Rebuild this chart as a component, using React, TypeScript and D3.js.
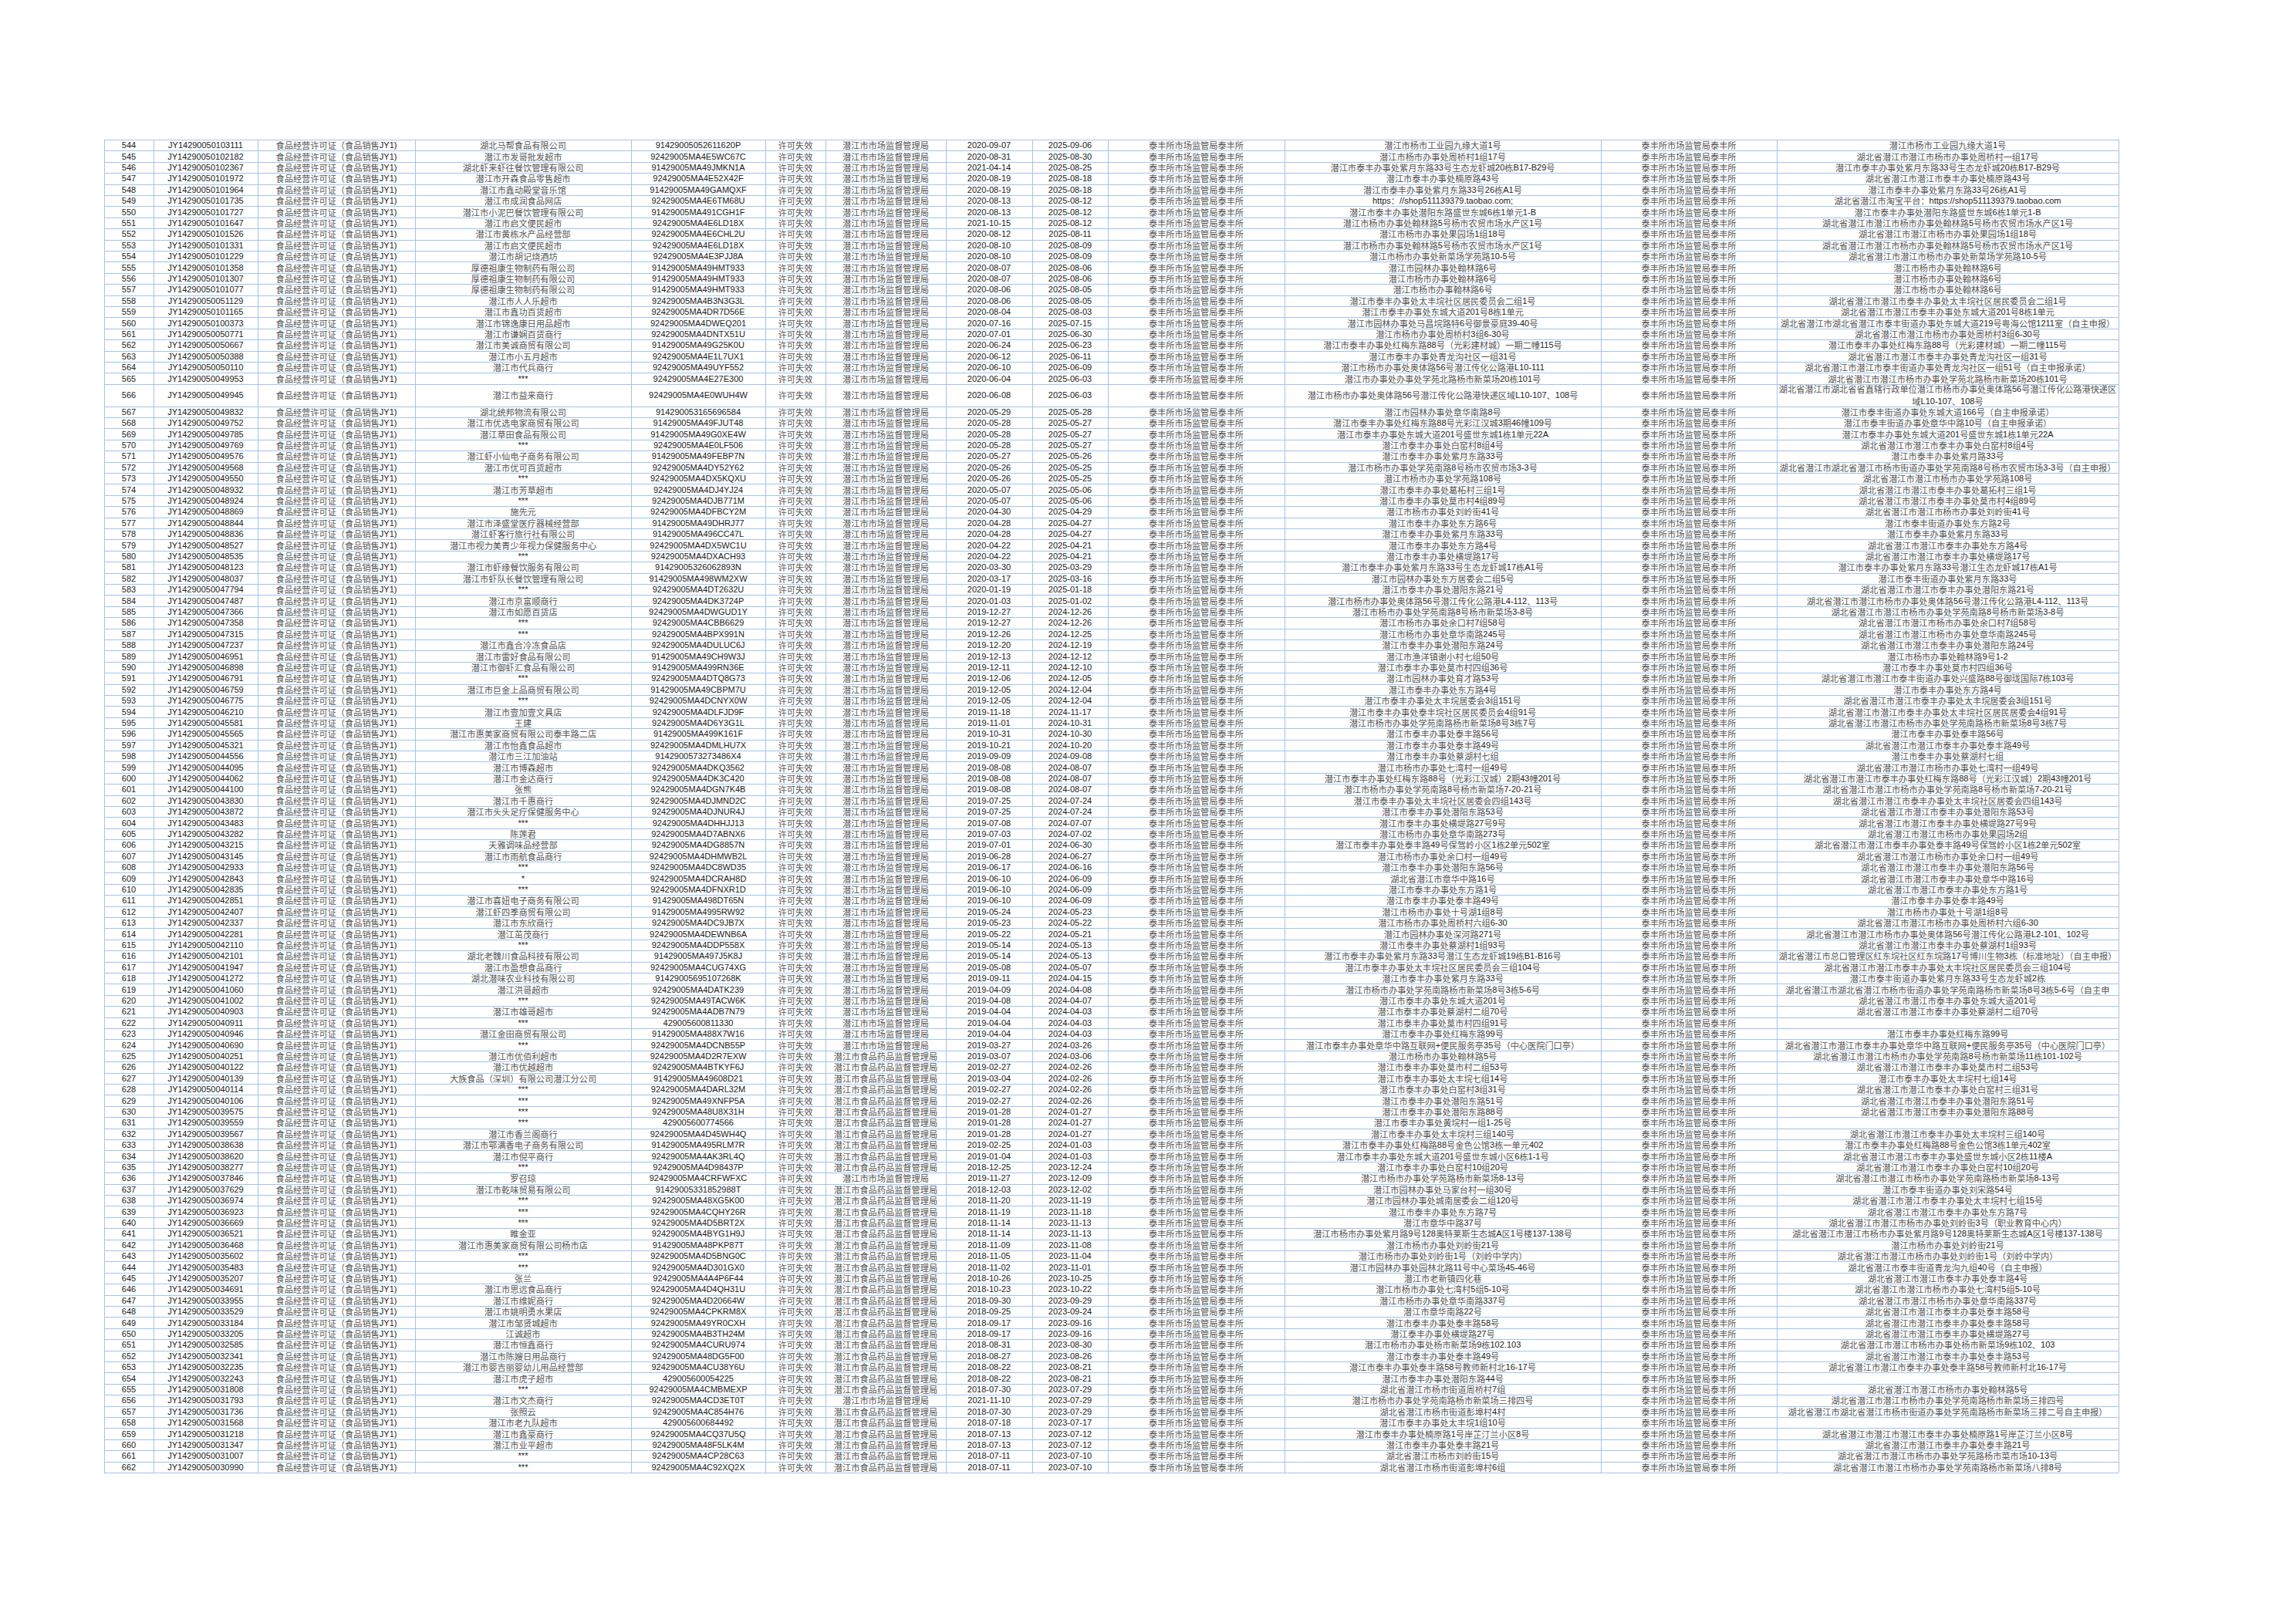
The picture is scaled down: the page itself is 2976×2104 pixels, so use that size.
import React from "react";
import * as d3 from "d3";

// ---------- DATA ----------
const rowNumbers = [
  544, 545, 546, 547, 548, 549, 550, 551, 552, 553, 554, 555, 556, 557, 558, 559,
  560, 561, 562, 563, 564, 565, 566, 567, 568, 569, 570, 571, 572, 573, 574, 575,
  576, 577, 578, 579, 580, 581, 582, 583, 584, 585, 586, 587, 588, 589, 590, 591,
  592, 593, 594, 595, 596, 597, 598, 599, 600, 601, 602, 603, 604, 605, 606, 607,
  608, 609, 610, 611, 612, 613, 614, 615, 616, 617, 618, 619, 620, 621, 622, 623,
  624, 625, 626, 627, 628, 629, 630, 631, 632, 633, 634, 635, 636, 637, 638, 639,
  640, 641, 642, 643, 644, 645, 646, 647, 648, 649, 650, 651, 652, 653, 654, 655,
  656, 657, 658, 659, 660, 661, 662,
];

const licenseNos = [
  "JY14290050103111", "JY14290050102182", "JY14290050102367", "JY14290050101972",
  "JY14290050101964", "JY14290050101735", "JY14290050101727", "JY14290050101647",
  "JY14290050101526", "JY14290050101331", "JY14290050101229", "JY14290050101358",
  "JY14290050101307", "JY14290050101077", "JY14290050051129", "JY14290050101165",
  "JY14290050100373", "JY14290050050771", "JY14290050050667", "JY14290050050388",
  "JY14290050050110", "JY14290050049953", "JY14290050049945", "JY14290050049832",
  "JY14290050049752", "JY14290050049785", "JY14290050049769", "JY14290050049576",
  "JY14290050049568", "JY14290050049550", "JY14290050048932", "JY14290050048924",
  "JY14290050048869", "JY14290050048844", "JY14290050048836", "JY14290050048527",
  "JY14290050048535", "JY14290050048123", "JY14290050048037", "JY14290050047794",
  "JY14290050047487", "JY14290050047366", "JY14290050047358", "JY14290050047315",
  "JY14290050047237", "JY14290050046951", "JY14290050046898", "JY14290050046791",
  "JY14290050046759", "JY14290050046775", "JY14290050046210", "JY14290050045581",
  "JY14290050045565", "JY14290050045321", "JY14290050044556", "JY14290050044095",
  "JY14290050044062", "JY14290050044100", "JY14290050043830", "JY14290050043872",
  "JY14290050043483", "JY14290050043282", "JY14290050043215", "JY14290050043145",
  "JY14290050042933", "JY14290050042843", "JY14290050042835", "JY14290050042851",
  "JY14290050042407", "JY14290050042337", "JY14290050042281", "JY14290050042110",
  "JY14290050042101", "JY14290050041947", "JY14290050041272", "JY14290050041060",
  "JY14290050041002", "JY14290050040903", "JY14290050040911", "JY14290050040946",
  "JY14290050040690", "JY14290050040251", "JY14290050040122", "JY14290050040139",
  "JY14290050040114", "JY14290050040106", "JY14290050039575", "JY14290050039559",
  "JY14290050039567", "JY14290050038638", "JY14290050038620", "JY14290050038277",
  "JY14290050037846", "JY14290050037629", "JY14290050036974", "JY14290050036923",
  "JY14290050036669", "JY14290050036521", "JY14290050036468", "JY14290050035602",
  "JY14290050035483", "JY14290050035207", "JY14290050034691", "JY14290050033955",
  "JY14290050033529", "JY14290050033184", "JY14290050033205", "JY14290050032585",
  "JY14290050032341", "JY14290050032235", "JY14290050032243", "JY14290050031808",
  "JY14290050031793", "JY14290050031736", "JY14290050031568", "JY14290050031218",
  "JY14290050031347", "JY14290050031007", "JY14290050030990",
];

const permitType = "食品经营许可证（食品销售JY1)";
const permitStatus = "许可失效";
const supervisor = "泰丰所市场监管局泰丰所";

const companies = [
  "湖北马帮食品有限公司", "潜江市发哥批发超市", "湖北虾来虾往餐饮管理有限公司", "潜江市开森食品零售超市",
  "潜江市鑫动殿堂音乐馆", "潜江市成润食品网店", "潜江市小泥巴餐饮管理有限公司", "潜江市启文便民超市",
  "潜江市黄栋水产品经营部", "潜江市启文便民超市", "潜江市胡记烧酒坊", "厚德祖康生物制药有限公司",
  "厚德祖康生物制药有限公司", "厚德祖康生物制药有限公司", "潜江市人人乐超市", "潜江市鑫功百货超市",
  "潜江市锦逸康日用品超市", "潜江市谦娴百货商行", "潜江市美诚商贸有限公司", "潜江市小五月超市",
  "潜江市代兵商行", "***", "潜江市益来商行", "湖北统邦物流有限公司",
  "潜江市优选电家商贸有限公司", "潜江草田食品有限公司", "***", "潜江虾小仙电子商务有限公司",
  "潜江市优可百货超市", "***", "潜江市芳草超市", "***",
  "施先元", "潜江市泽盛堂医疗器械经营部", "潜江虾客行旅行社有限公司", "潜江市视力美青少年视力保健服务中心",
  "***", "潜江市虾缘餐饮服务有限公司", "潜江市虾队长餐饮管理有限公司", "***",
  "潜江市京富顺商行", "潜江市如愿百货店", "***", "***",
  "潜江市鑫合冷冻食品店", "潜江市雷好食品有限公司", "潜江市御虾汇食品有限公司", "***",
  "潜江市巨金上品商贸有限公司", "***", "潜江市壹加壹文具店", "王建",
  "潜江市惠美家商贸有限公司泰丰路二店", "潜江市怡鑫食品超市", "潜江市三江加油站", "潜江市博森超市",
  "潜江市金达商行", "张熊", "潜江市千惠商行", "潜江市头头足疗保健服务中心",
  "***", "陈莲君", "天雅调味品经营部", "潜江市雨航食品商行",
  "***", "*", "***", "潜江市喜妞电子商务有限公司",
  "潜江虾四季商贸有限公司", "潜江市东欣商行", "潜江茁茂商行", "***",
  "湖北老魏川食品科技有限公司", "潜江市盈想食品商行", "湖北潜味农业科技有限公司", "潜江洪哥超市",
  "***", "潜江市雄哥超市", "***", "潜江金田商贸有限公司",
  "***", "潜江市优佰利超市", "潜江市优越超市", "大族食品（深圳）有限公司潜江分公司",
  "***", "***", "***", "***",
  "潜江市香兰阁商行", "潜江市鄂满香电子商务有限公司", "潜江市倪平商行", "***",
  "罗召琼", "潜江市乾味贸易有限公司", "***", "***",
  "***", "睢金亚", "潜江市惠美家商贸有限公司杨市店", "***",
  "***", "张兰", "潜江市思远食品商行", "潜江市维妮商行",
  "潜江市姚明勇水果店", "潜江市邹贤城超市", "江诚超市", "潜江市恒鑫商行",
  "潜江市陈嫂日用品商行", "潜江市婴吉丽婴幼儿用品经营部", "潜江市虎子超市", "***",
  "潜江市文杰商行", "张照云", "潜江市老九队超市", "潜江市鑫豪商行",
  "潜江市业平超市", "***", "***",
];

const creditCodes = [
  "91429005052611620P", "92429005MA4E5WC67C", "91429005MA49JMKN1A", "92429005MA4E52X42F",
  "91429005MA49GAMQXF", "92429005MA4E6TM68U", "91429005MA491CGH1F", "92429005MA4E6LD18X",
  "92429005MA4E6CHL2U", "92429005MA4E6LD18X", "92429005MA4E3PJJ8A", "91429005MA49HMT933",
  "91429005MA49HMT933", "91429005MA49HMT933", "92429005MA4B3N3G3L", "92429005MA4DR7D56E",
  "92429005MA4DWEQ201", "92429005MA4DNTX51U", "91429005MA49G25K0U", "92429005MA4E1L7UX1",
  "92429005MA49UYF552", "92429005MA4E27E300", "92429005MA4E0WUH4W", "914290053165696584",
  "91429005MA49FJUT48", "91429005MA49G0XE4W", "92429005MA4E0LF506", "91429005MA49FEBP7N",
  "92429005MA4DY52Y62", "92429005MA4DX5KQXU", "92429005MA4DJ4YJ24", "92429005MA4DJB771M",
  "92429005MA4DFBCY2M", "91429005MA49DHRJ77", "91429005MA496CC47L", "92429005MA4DX5WC1U",
  "92429005MA4DXACH93", "91429005326062893N", "91429005MA498WM2XW", "92429005MA4DT2632U",
  "92429005MA4DK3724P", "92429005MA4DWGUD1Y", "92429005MA4CBB6629", "92429005MA4BPX991N",
  "92429005MA4DULUC6J", "91429005MA49CH9W3J", "91429005MA499RN36E", "92429005MA4DTQ8G73",
  "91429005MA49CBPM7U", "92429005MA4DCNYX0W", "92429005MA4DLFJD9F", "92429005MA4D6Y3G1L",
  "91429005MA499K161F", "92429005MA4DMLHU7X", "9142900573273486X4", "92429005MA4DKQ3562",
  "92429005MA4DK3C420", "92429005MA4DGN7K4B", "92429005MA4DJMND2C", "92429005MA4DJNUR4J",
  "92429005MA4DHHJJ13", "92429005MA4D7ABNX6", "92429005MA4DG8857N", "92429005MA4DHMWB2L",
  "92429005MA4DC8WD35", "92429005MA4DCRAH8D", "92429005MA4DFNXR1D", "91429005MA498DT65N",
  "91429005MA4995RW92", "92429005MA4DC9JB7X", "92429005MA4DEWNB6A", "92429005MA4DDP558X",
  "91429005MA497J5K8J", "92429005MA4CUG74XG", "91429005695107268K", "92429005MA4DATK239",
  "92429005MA49TACW6K", "92429005MA4ADB7N79", "429005600811330", "91429005MA488X7W16",
  "92429005MA4DCNB55P", "92429005MA4D2R7EXW", "92429005MA4BTKYF6J", "91429005MA49608D21",
  "92429005MA4DARL32M", "92429005MA49XNFP5A", "92429005MA48U8X31H", "429005600774566",
  "92429005MA4D45WH4Q", "91429005MA495RLM7R", "92429005MA4AK3RL4Q", "92429005MA4D98437P",
  "92429005MA4CRFWFXC", "91429005331852988T", "92429005MA48XG5K00", "92429005MA4CQHY26R",
  "92429005MA4D5BRT2X", "92429005MA4BYG1H9J", "91429005MA48PKP87T", "92429005MA4D5BNG0C",
  "92429005MA4D301GX0", "92429005MA4A4P6F44", "92429005MA4D4QH31U", "92429005MA4D20664W",
  "92429005MA4CPKRM8X", "92429005MA49YR0CXH", "92429005MA4B3TH24M", "92429005MA4CURU974",
  "92429005MA48DG5F00", "92429005MA4CU38Y6U", "429005600054225", "92429005MA4CMBMEXP",
  "92429005MA4CD3ET0T", "92429005MA4C854H76", "429005600684492", "92429005MA4CQ37U5Q",
  "92429005MA48F5LK4M", "92429005MA4CP28C63", "92429005MA4C92XQ2X",
];

const AUTH_M = "潜江市市场监督管理局";
const AUTH_F = "潜江市食品药品监督管理局";
// M = 市场监督管理局, F = 食品药品监督管理局
const authorityCodes = [
  "M", "M", "M", "M", "M", "M", "M", "M", "M", "M", "M", "M", "M", "M", "M", "M",
  "M", "M", "M", "M", "M", "M", "M", "M", "M", "M", "M", "M", "M", "M", "M", "M",
  "M", "M", "M", "M", "M", "M", "M", "M", "M", "M", "M", "M", "M", "M", "M", "M",
  "M", "M", "M", "M", "M", "M", "M", "M", "M", "M", "M", "M", "M", "M", "M", "M",
  "M", "M", "M", "M", "M", "M", "M", "M", "M", "M", "M", "M", "M", "M", "M", "M",
  "M", "F", "F", "F", "F", "F", "F", "F", "F", "F", "F", "F", "M", "F", "F", "F",
  "F", "F", "F", "F", "F", "F", "F", "F", "F", "F", "F", "F", "F", "F", "F", "F",
  "M", "F", "F", "F", "F", "F", "F",
];

const startDates = [
  "2020-09-07", "2020-08-31", "2021-04-14", "2020-08-19", "2020-08-19", "2020-08-13", "2020-08-13", "2021-10-15",
  "2020-08-12", "2020-08-10", "2020-08-10", "2020-08-07", "2020-08-07", "2020-08-06", "2020-08-06", "2020-08-04",
  "2020-07-16", "2020-07-01", "2020-06-24", "2020-06-12", "2020-06-10", "2020-06-04", "2020-06-08", "2020-05-29",
  "2020-05-28", "2020-05-28", "2020-05-28", "2020-05-27", "2020-05-26", "2020-05-26", "2020-05-07", "2020-05-07",
  "2020-04-30", "2020-04-28", "2020-04-28", "2020-04-22", "2020-04-22", "2020-03-30", "2020-03-17", "2020-01-19",
  "2020-01-03", "2019-12-27", "2019-12-27", "2019-12-26", "2019-12-20", "2019-12-13", "2019-12-11", "2019-12-06",
  "2019-12-05", "2019-12-05", "2019-11-18", "2019-11-01", "2019-10-31", "2019-10-21", "2019-09-09", "2019-08-08",
  "2019-08-08", "2019-08-08", "2019-07-25", "2019-07-25", "2019-07-08", "2019-07-03", "2019-07-01", "2019-06-28",
  "2019-06-17", "2019-06-10", "2019-06-10", "2019-06-10", "2019-05-24", "2019-05-23", "2019-05-22", "2019-05-14",
  "2019-05-14", "2019-05-08", "2019-09-11", "2019-04-09", "2019-04-08", "2019-04-04", "2019-04-04", "2019-04-04",
  "2019-03-27", "2019-03-07", "2019-02-27", "2019-03-04", "2019-02-27", "2019-02-27", "2019-01-28", "2019-01-28",
  "2019-01-28", "2019-02-25", "2019-01-04", "2018-12-25", "2019-11-27", "2018-12-03", "2018-11-20", "2018-11-19",
  "2018-11-14", "2018-11-14", "2018-11-09", "2018-11-05", "2018-11-02", "2018-10-26", "2018-10-23", "2018-09-30",
  "2018-09-25", "2018-09-17", "2018-09-17", "2018-08-31", "2018-08-27", "2018-08-22", "2018-08-22", "2018-07-30",
  "2021-11-10", "2018-07-30", "2018-07-18", "2018-07-13", "2018-07-13", "2018-07-11", "2018-07-11",
];

const endDates = [
  "2025-09-06", "2025-08-30", "2025-08-25", "2025-08-18", "2025-08-18", "2025-08-12", "2025-08-12", "2025-08-12",
  "2025-08-11", "2025-08-09", "2025-08-09", "2025-08-06", "2025-08-06", "2025-08-05", "2025-08-05", "2025-08-03",
  "2025-07-15", "2025-06-30", "2025-06-23", "2025-06-11", "2025-06-09", "2025-06-03", "2025-06-03", "2025-05-28",
  "2025-05-27", "2025-05-27", "2025-05-27", "2025-05-26", "2025-05-25", "2025-05-25", "2025-05-06", "2025-05-06",
  "2025-04-29", "2025-04-27", "2025-04-27", "2025-04-21", "2025-04-21", "2025-03-29", "2025-03-16", "2025-01-18",
  "2025-01-02", "2024-12-26", "2024-12-26", "2024-12-25", "2024-12-19", "2024-12-12", "2024-12-10", "2024-12-05",
  "2024-12-04", "2024-12-04", "2024-11-17", "2024-10-31", "2024-10-30", "2024-10-20", "2024-09-08", "2024-08-07",
  "2024-08-07", "2024-08-07", "2024-07-24", "2024-07-24", "2024-07-07", "2024-07-02", "2024-06-30", "2024-06-27",
  "2024-06-16", "2024-06-09", "2024-06-09", "2024-06-09", "2024-05-23", "2024-05-22", "2024-05-21", "2024-05-13",
  "2024-05-13", "2024-05-07", "2024-04-15", "2024-04-08", "2024-04-07", "2024-04-03", "2024-04-03", "2024-04-03",
  "2024-03-26", "2024-03-06", "2024-02-26", "2024-02-26", "2024-02-26", "2024-02-26", "2024-01-27", "2024-01-27",
  "2024-01-27", "2024-01-03", "2024-01-03", "2023-12-24", "2023-12-09", "2023-12-02", "2023-11-19", "2023-11-18",
  "2023-11-13", "2023-11-13", "2023-11-08", "2023-11-04", "2023-11-01", "2023-10-25", "2023-10-22", "2023-09-29",
  "2023-09-24", "2023-09-16", "2023-09-16", "2023-08-30", "2023-08-26", "2023-08-21", "2023-08-21", "2023-07-29",
  "2023-07-29", "2023-07-29", "2023-07-17", "2023-07-12", "2023-07-12", "2023-07-10", "2023-07-10",
];

const addresses = [
  "潜江市杨市工业园九缘大道1号",
  "潜江市杨市办事处周桥村1组17号",
  "潜江市泰丰办事处紫月东路33号生态龙虾城20栋B17-B29号",
  "潜江市泰丰办事处楠原路43号",
  "潜江市泰丰办事处紫月东路33号26栋A1号",
  "https：//shop511139379.taobao.com;",
  "潜江市泰丰办事处潜阳东路盛世东城6栋1单元1-B",
  "潜江市杨市办事处翰林路5号杨市农贸市场水产区1号",
  "潜江市杨市办事处果园场1组18号",
  "潜江市杨市办事处翰林路5号杨市农贸市场水产区1号",
  "潜江市杨市办事处新菜场学苑路10-5号",
  "潜江市园林办事处翰林路6号",
  "潜江市杨市办事处翰林路6号",
  "潜江市杨市办事翰林路6号",
  "潜江市泰丰办事处太丰垸社区居民委员会二组1号",
  "潜江市泰丰办事处东城大道201号8栋1单元",
  "潜江市园林办事处马昌垸路特6号御景豪庭39-40号",
  "潜江市杨市办事处周桥村3组6-30号",
  "潜江市泰丰办事处红梅东路88号（光彩建材城）一期二幢115号",
  "潜江市泰丰办事处青龙沟社区一组31号",
  "潜江市杨市办事处奥体路56号潜江传化公路港L10-111",
  "潜江市办事处办事处学苑北路杨市新菜场20栋101号",
  "潜江市杨市办事处奥体路56号潜江传化公路港快递区域L10-107、108号",
  "潜江市园林办事处章华南路8号",
  "潜江市泰丰办事处红梅东路88号光彩江汉城3期46幢109号",
  "潜江市泰丰办事处东城大道201号盛世东城1栋1单元22A",
  "潜江市泰丰办事处白窑村8组4号",
  "潜江市泰丰办事处紫月东路33号",
  "潜江市杨市办事处学苑南路8号杨市农贸市场3-3号",
  "潜江市杨市办事处学苑路108号",
  "潜江市泰丰办事处葛柘村三组1号",
  "潜江市泰丰办事处莫市村4组89号",
  "潜江市杨市办事处刘岭街41号",
  "潜江市泰丰办事处东方路6号",
  "潜江市泰丰办事处紫月东路33号",
  "潜江市泰丰办事处东方路4号",
  "潜江市泰丰办事处横堤路17号",
  "潜江市泰丰办事处紫月东路33号生态龙虾城17栋A1号",
  "潜江市园林办事处东方居委会二组5号",
  "潜江市泰丰办事处潜阳东路21号",
  "潜江市杨市办事处奥体路56号潜江传化公路港L4-112、113号",
  "潜江市杨市办事处学苑南路8号杨市新菜场3-8号",
  "潜江市杨市办事处余口村7组58号",
  "潜江市杨市办事处章华南路245号",
  "潜江市泰丰办事处潜阳东路24号",
  "潜江市渔洋镇谢小村七组50号",
  "潜江市泰丰办事处莫市村四组36号",
  "潜江市园林办事处育才路53号",
  "潜江市泰丰办事处东方路4号",
  "潜江市泰丰办事处太丰垸居委会3组151号",
  "潜江市泰丰办事处泰丰垸社区居民委员会4组91号",
  "潜江市杨市办事处学苑南路杨市新菜场8号3栋7号",
  "潜江市泰丰办事处泰丰路56号",
  "潜江市泰丰办事处泰丰路49号",
  "潜江市泰丰办事处蔡湖村七组",
  "潜江市杨市办事处七湾村一组49号",
  "潜江市泰丰办事处红梅东路88号（光彩江汉城）2期43幢201号",
  "潜江市杨市办事处学苑南路8号杨市新菜场7-20-21号",
  "潜江市泰丰办事处太丰垸社区居委会四组143号",
  "潜江市泰丰办事处潜阳东路53号",
  "潜江市泰丰办事处横堤路27号9号",
  "潜江市杨市办事处章华南路273号",
  "潜江市泰丰办事处泰丰路49号保驾岭小区1栋2单元502室",
  "潜江市杨市办事处余口村一组49号",
  "潜江市泰丰办事处潜阳东路56号",
  "湖北省潜江市章华中路16号",
  "潜江市泰丰办事处东方路1号",
  "潜江市泰丰办事处泰丰路49号",
  "潜江市杨市办事处十号湖1组8号",
  "潜江市杨市办事处周桥村六组6-30",
  "潜江市园林办事处深河路271号",
  "潜江市泰丰办事处蔡湖村1组93号",
  "潜江市泰丰办事处紫月东路33号潜江生态龙虾城19栋B1-B16号",
  "潜江市泰丰办事处太丰垸社区居民委员会三组104号",
  "潜江市泰丰办事处紫月东路33号",
  "潜江市杨市办事处学苑南路杨市新菜场8号3栋5-6号",
  "潜江市泰丰办事处东城大道201号",
  "潜江市泰丰办事处蔡湖村二组70号",
  "潜江市泰丰办事处莫市村四组91号",
  "潜江市泰丰办事处红梅东路99号",
  "潜江市泰丰办事处章华中路互联网+便民服务亭35号（中心医院门口亭）",
  "潜江市杨市办事处翰林路5号",
  "潜江市泰丰办事处莫市村二组53号",
  "潜江市泰丰办事处太丰垸七组14号",
  "潜江市泰丰办事处白窑村3组31号",
  "潜江市泰丰办事处潜阳东路51号",
  "潜江市泰丰办事处潜阳东路88号",
  "潜江市泰丰办事处黄垸村一组1-25号",
  "潜江市泰丰办事处太丰垸村三组140号",
  "潜江市泰丰办事处红梅路88号金色公馆3栋一单元402",
  "潜江市泰丰办事处东城大道201号盛世东城小区6栋1-1号",
  "潜江市泰丰办事处白窑村10组20号",
  "潜江市杨市办事处学苑路杨市新菜场8-13号",
  "潜江市园林办事处马家台村一组30号",
  "潜江市园林办事处城南居委会二组120号",
  "潜江市泰丰办事处东方路7号",
  "潜江市章华中路37号",
  "潜江市杨市办事处紫月路9号128奥特莱斯生态城A区1号楼137-138号",
  "潜江市杨市办事处刘岭街21号",
  "潜江市杨市办事处刘岭街1号（刘岭中学内）",
  "潜江市园林办事处园林北路11号中心菜场45-46号",
  "潜江市老新镇四化巷",
  "潜江市杨市办事处七湾村5组5-10号",
  "潜江市杨市办事处章华南路337号",
  "潜江市章华南路22号",
  "潜江市泰丰办事处泰丰路58号",
  "潜江泰丰办事处横堤路27号",
  "潜江市杨市办事处杨市新菜场9栋102.103",
  "潜江市泰丰办事处泰丰路49号",
  "潜江市泰丰办事处泰丰路58号教师新村北16-17号",
  "潜江市泰丰办事处潜阳东路44号",
  "湖北省潜江市杨市街道周桥村7组",
  "潜江市杨市办事处学苑南路杨市新菜场三排四号",
  "湖北省潜江市杨市街道彭埠村4村",
  "潜江市泰丰办事处太丰垸1组10号",
  "潜江市泰丰办事处楠原路1号岸芷汀兰小区8号",
  "潜江市泰丰办事处泰丰路21号",
  "湖北省潜江市杨市刘岭街15号",
  "湖北省潜江市杨市街道彭埠村6组",
];

const regAddresses = [
  "潜江市杨市工业园九缘大道1号",
  "湖北省潜江市潜江市杨市办事处周桥村一组17号",
  "潜江市泰丰办事处紫月东路33号生态龙虾城20栋B17-B29号",
  "湖北省潜江市潜江市泰丰办事处楠原路43号",
  "潜江市泰丰办事处紫月东路33号26栋A1号",
  "湖北省潜江市淘宝平台：https://shop511139379.taobao.com",
  "潜江市泰丰办事处潜阳东路盛世东城6栋1单元1-B",
  "湖北省潜江市潜江市杨市办事处翰林路5号杨市农贸市场水产区1号",
  "湖北省潜江市潜江市杨市办事处果园场1组18号",
  "湖北省潜江市潜江市杨市办事处翰林路5号杨市农贸市场水产区1号",
  "湖北省潜江市潜江市杨市办事处新菜场学苑路10-5号",
  "潜江市杨市办事处翰林路6号",
  "潜江市杨市办事处翰林路6号",
  "潜江市杨市办事处翰林路6号",
  "湖北省潜江市潜江市泰丰办事处太丰垸社区居民委员会二组1号",
  "湖北省潜江市潜江市泰丰办事处东城大道201号8栋1单元",
  "湖北省潜江市湖北省潜江市泰丰街道办事处东城大道219号粤海公馆1211室（自主申报）",
  "湖北省潜江市潜江市杨市办事处周桥村3组6-30号",
  "潜江市泰丰办事处红梅东路88号（光彩建材城）一期二幢115号",
  "湖北省潜江市潜江市泰丰办事处青龙沟社区一组31号",
  "湖北省潜江市潜江市泰丰街道办事处青龙沟社区一组51号（自主申报承诺）",
  "湖北省潜江市潜江市杨市办事处学苑北路杨市新菜场20栋101号",
  "湖北省潜江市湖北省省直辖行政单位潜江市杨市办事处奥体路56号潜江传化公路港快递区\n域L10-107、108号",
  "潜江市泰丰街道办事处东城大道166号（自主申报承诺）",
  "潜江市泰丰街道办事处章华中路10号（自主申报承诺）",
  "潜江市泰丰办事处东城大道201号盛世东城1栋1单元22A",
  "湖北省潜江市潜江市泰丰办事处白窑村8组4号",
  "潜江市泰丰办事处紫月路33号",
  "湖北省潜江市湖北省潜江市杨市街道办事处学苑南路8号杨市农贸市场3-3号（自主申报）",
  "湖北省潜江市潜江市杨市办事处学苑路108号",
  "湖北省潜江市潜江市泰丰办事处葛拓村三组1号",
  "湖北省潜江市潜江市泰丰办事处莫市村4组89号",
  "湖北省潜江市潜江市杨市办事处刘岭街41号",
  "潜江市泰丰街道办事处东方路2号",
  "潜江市泰丰办事处紫月东路33号",
  "湖北省潜江市潜江市泰丰办事处东方路4号",
  "湖北省潜江市潜江市泰丰办事处横堤路17号",
  "潜江市泰丰办事处紫月东路33号潜江生态龙虾城17栋A1号",
  "潜江市泰丰街道办事处紫月东路33号",
  "湖北省潜江市潜江市泰丰办事处潜阳东路21号",
  "湖北省潜江市潜江市杨市办事处奥体路56号潜江传化公路港L4-112、113号",
  "湖北省潜江市潜江市杨市办事处学苑南路8号杨市新菜场3-8号",
  "湖北省潜江市潜江市杨市办事处余口村7组58号",
  "湖北省潜江市潜江市杨市办事处章华南路245号",
  "湖北省潜江市潜江市泰丰办事处潜阳东路24号",
  "潜江市杨市办事处翰林路9号1-2",
  "潜江市泰丰办事处莫市村四组36号",
  "湖北省潜江市潜江市泰丰街道办事处兴盛路88号御珑国际7栋103号",
  "潜江市泰丰办事处东方路4号",
  "湖北省潜江市潜江市泰丰办事处太丰垸居委会3组151号",
  "湖北省潜江市潜江市泰丰办事处太丰垸社区居民居委会4组91号",
  "湖北省潜江市潜江市杨市办事处学苑南路杨市新菜场8号3栋7号",
  "潜江市泰丰办事处泰丰路56号",
  "湖北省潜江市潜江市泰丰办事处泰丰路49号",
  "潜江市泰丰办事处蔡湖村七组",
  "湖北省潜江市潜江市杨市办事处七湾村一组49号",
  "湖北省潜江市潜江市泰丰办事处红梅东路88号（光彩江汉城）2期43幢201号",
  "湖北省潜江市潜江市杨市办事处学苑南路8号杨市新菜场7-20-21号",
  "湖北省潜江市潜江市泰丰办事处太丰垸社区居委会四组143号",
  "湖北省潜江市潜江市泰丰办事处潜阳东路53号",
  "湖北省潜江市潜江市泰丰办事处横堤路27号9号",
  "湖北省潜江市潜江市杨市办事处果园场2组",
  "湖北省潜江市潜江市泰丰办事处泰丰路49号保驾岭小区1栋2单元502室",
  "湖北省潜江市潜江市杨市办事处余口村一组49号",
  "湖北省潜江市潜江市泰丰办事处潜阳东路56号",
  "湖北省潜江市潜江市泰丰办事处章华中路16号",
  "湖北省潜江市潜江市泰丰办事处东方路1号",
  "潜江市泰丰办事处泰丰路49号",
  "潜江市杨市办事处十号湖1组8号",
  "湖北省潜江市潜江市杨市办事处周桥村六组6-30",
  "湖北省潜江市潜江市杨市办事处奥体路56号潜江传化公路港L2-101、102号",
  "湖北省潜江市潜江市泰丰办事处蔡湖村1组93号",
  "湖北省潜江市总口管理区红东垸社区红东垸路17号博川生物3栋（标准地址）（自主申报）",
  "湖北省潜江市潜江市泰丰办事处太丰垸社区居民委员会三组104号",
  "潜江市泰丰街道办事处紫月东路33号生态龙虾城2栋",
  "湖北省潜江市湖北省潜江市杨市街道办事处学苑南路杨市新菜场8号3栋5-6号（自主申",
  "湖北省潜江市潜江市泰丰办事处东城大道201号",
  "湖北省潜江市潜江市泰丰办事处蔡湖村二组70号",
  "",
  "潜江市泰丰办事处红梅东路99号",
  "湖北省潜江市潜江市泰丰办事处章华中路互联网+便民服务亭35号（中心医院门口亭）",
  "湖北省潜江市潜江市杨市办事处学苑南路8号杨市新菜场11栋101-102号",
  "湖北省潜江市潜江市泰丰办事处莫市村二组53号",
  "潜江市泰丰办事处太丰垸村七组14号",
  "湖北省潜江市潜江市泰丰办事处白窑村三组31号",
  "湖北省潜江市潜江市泰丰办事处潜阳东路51号",
  "湖北省潜江市潜江市泰丰办事处潜阳东路88号",
  "",
  "湖北省潜江市潜江市泰丰办事处太丰垸村三组140号",
  "潜江市泰丰办事处红梅路88号金色公馆3栋1单元402室",
  "湖北省潜江市潜江市泰丰办事处盛世东城小区2栋11楼A",
  "湖北省潜江市潜江市泰丰办事处白窑村10组20号",
  "湖北省潜江市潜江市杨市办事处学苑南路杨市新菜场8-13号",
  "潜江市泰丰街道办事处刘宋路54号",
  "湖北省潜江市潜江市泰丰办事处太丰垸村七组15号",
  "湖北省潜江市潜江市泰丰办事处东方路7号",
  "湖北省潜江市潜江市杨市办事处刘岭街3号（职业教育中心内）",
  "湖北省潜江市潜江市杨市办事处紫月路9号128奥特莱斯生态城A区1号楼137-138号",
  "潜江市杨市办事处刘岭街21号",
  "湖北省潜江市潜江市杨市办事处刘岭街1号（刘岭中学内）",
  "湖北省潜江市泰丰街道青龙沟九组40号（自主申报）",
  "湖北省潜江市潜江市泰丰办事处泰丰路4号",
  "湖北省潜江市潜江市杨市办事处七湾村5组5-10号",
  "湖北省潜江市潜江市杨市办事处章华南路337号",
  "湖北省潜江市潜江市泰丰办事处泰丰路58号",
  "湖北省潜江市潜江市泰丰办事处泰丰路58号",
  "湖北省潜江市潜江市泰丰办事处横堤路27号",
  "湖北省潜江市潜江市杨市办事处杨市新菜场9栋102、103",
  "湖北省潜江市潜江市泰丰办事处泰丰路53号",
  "湖北省潜江市潜江市泰丰办事处泰丰路58号教师新村北16-17号",
  "",
  "湖北省潜江市潜江市杨市办事处翰林路5号",
  "湖北省潜江市潜江市杨市办事处学苑南路杨市新菜场三排四号",
  "湖北省潜江市湖北省潜江市杨市街道办事处学苑南路杨市新菜场三排二号自主申报）",
  "",
  "湖北省潜江市潜江市潜江市泰丰办事处楠原路1号岸芷汀兰小区8号",
  "湖北省潜江市潜江市泰丰办事处泰丰路21号",
  "湖北省潜江市潜江市杨市办事处学苑路杨市菜市场10-13号",
  "湖北省潜江市潜江市杨市办事处学苑南路杨市新菜场八排8号",
];

// ---------- LAYOUT ----------
const W = 2976;
const H = 2104;
const COL_EDGES = [135, 199, 334, 538, 818, 992, 1070, 1226, 1338, 1436, 1665, 2075, 2303, 2746];
const TABLE_TOP = 181;
const TABLE_BOTTOM = 1909;
const GRID = "#a3c4ea";
const CJK_FILL = "#555";
const ASCII_FILL = "#1b1b1b";
const CJK_SIZE = 11.2;
const ASCII_SIZE = 11;

type Row = { cells: string[]; span: number };

const rows: Row[] = rowNumbers.map((n, i) => {
  const reg = regAddresses[i];
  const span = reg.includes("\n") ? 2 : 1;
  return {
    span,
    cells: [
      String(n),
      licenseNos[i],
      permitType,
      companies[i],
      creditCodes[i],
      permitStatus,
      authorityCodes[i] === "M" ? AUTH_M : AUTH_F,
      startDates[i],
      endDates[i],
      supervisor,
      addresses[i],
      supervisor,
      reg,
    ],
  };
});

const unitStarts: number[] = [];
let acc = 0;
rows.forEach((r) => {
  unitStarts.push(acc);
  acc += r.span;
});
const totalUnits = acc;

const yScale = d3.scaleLinear().domain([0, totalUnits]).range([TABLE_TOP, TABLE_BOTTOM]);

function MixedText({ x, y, text }: { x: number; y: number; text: string }) {
  const parts = text.match(/[\x00-\xff]+|[^\x00-\xff]+/g) || [];
  return (
    <text
      x={x}
      y={y}
      textAnchor="middle"
      dominantBaseline="central"
      fontFamily="'Noto Sans CJK SC', sans-serif"
      fontSize={CJK_SIZE}
      fill={CJK_FILL}
    >
      {parts.map((p, k) =>
        /^[\x00-\xff]/.test(p) ? (
          <tspan key={k} fontFamily="'Liberation Sans', Arial, sans-serif" fontSize={ASCII_SIZE} fill={ASCII_FILL}>
            {p}
          </tspan>
        ) : (
          <tspan key={k}>{p}</tspan>
        )
      )}
    </text>
  );
}

export default function App() {
  const left = COL_EDGES[0];
  const right = COL_EDGES[COL_EDGES.length - 1];
  const hLines = [...unitStarts.map((u) => yScale(u)), yScale(totalUnits)];
  return (
    <svg
      width={W}
      height={H}
      viewBox={`0 0 ${W} ${H}`}
      style={{ position: "absolute", left: 0, top: 0, background: "#fff" }}
    >
      <rect x={0} y={0} width={W} height={H} fill="#fff" />
      <defs>
        {COL_EDGES.slice(0, -1).map((x0, c) => (
          <clipPath id={`col${c}`} key={c}>
            <rect x={x0} y={TABLE_TOP} width={COL_EDGES[c + 1] - x0} height={TABLE_BOTTOM - TABLE_TOP} />
          </clipPath>
        ))}
      </defs>
      <g shapeRendering="crispEdges" stroke={GRID} strokeWidth={1}>
        {hLines.map((yy, i) => (
          <line key={`h${i}`} x1={left} x2={right} y1={Math.round(yy) + 0.5} y2={Math.round(yy) + 0.5} />
        ))}
        {COL_EDGES.map((xx, i) => (
          <line key={`v${i}`} x1={xx + 0.5} x2={xx + 0.5} y1={TABLE_TOP} y2={TABLE_BOTTOM} />
        ))}
      </g>
      <g>
        {rows.map((r, i) => {
          const y0 = yScale(unitStarts[i]);
          const y1 = yScale(unitStarts[i] + r.span);
          const cy = (y0 + y1) / 2;
          return (
            <g key={i}>
              {r.cells.map((txt, c) => {
                if (!txt) return null;
                const cx = (COL_EDGES[c] + COL_EDGES[c + 1]) / 2;
                const lines = txt.split("\n");
                const lh = 15.6;
                return (
                  <g key={c} clipPath={`url(#col${c})`}>
                    {lines.map((ln, k) => (
                      <MixedText key={k} x={cx} y={cy + (k - (lines.length - 1) / 2) * lh} text={ln} />
                    ))}
                  </g>
                );
              })}
            </g>
          );
        })}
      </g>
    </svg>
  );
}
